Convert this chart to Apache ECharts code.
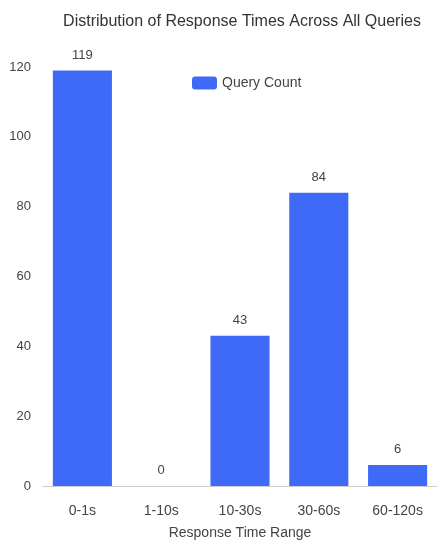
<!DOCTYPE html>
<html>
<head>
<meta charset="utf-8">
<script src="https://cdn.jsdelivr.net/npm/echarts@6/dist/echarts.min.js"></script>
<style>
  html, body { margin: 0; padding: 0; background: #fff; }
  #main { width: 437px; height: 541px; }
</style>
</head>
<body>
<div id="main"></div>
<script>
var categories = ['0-1s', '1-10s', '10-30s', '30-60s', '60-120s'];
var queryCounts = [119, 0, 43, 84, 6];
var seriesName = 'Query Count';

var font = 'Liberation Sans, Arial, sans-serif';
var chart = echarts.init(document.getElementById('main'));
chart.setOption({
    animation: false,
    title: {
        text: 'Distribution of Response Times Across All Queries',
        left: 237,
        top: 9,
        textAlign: 'center',
        textStyle: { fontFamily: font, fontSize: 16, fontWeight: 'normal', color: '#333' }
    },
    legend: {
        data: [seriesName],
        left: 187,
        top: 71,
        itemWidth: 25,
        itemHeight: 13,
        itemGap: 8,
        textStyle: { fontFamily: font, fontSize: 14, color: '#444' }
    },
    // fixed layout, no auto shrink for labels
    grid: { left: 43, right: 0, top: 67, bottom: 55, outerBoundsMode: 'none', containLabel: false },
    xAxis: {
        type: 'category',
        data: categories,
        name: 'Response Time Range',
        nameLocation: 'middle',
        nameGap: 40,
        nameTextStyle: { fontFamily: font, fontSize: 14, color: '#444' },
        axisLine: { lineStyle: { color: '#ccc' } },
        axisTick: { lineStyle: { color: '#ccc' } },
        axisLabel: { fontFamily: font, fontSize: 14, color: '#444', margin: 18 }
    },
    yAxis: {
        type: 'value',
        min: 0,
        max: 120,
        interval: 20,
        splitLine: { show: false },
        axisLine: { show: false },
        axisTick: { show: false },
        axisLabel: { fontFamily: font, fontSize: 13, color: '#444', margin: 12 }
    },
    series: [{
        name: seriesName,
        type: 'bar',
        data: queryCounts,
        barCategoryGap: '25%',
        itemStyle: { color: '#3F6AF7' },
        label: {
            show: true,
            position: 'top',
            distance: 9,
            fontFamily: font,
            fontSize: 13,
            color: '#444'
        }
    }]
});
</script>
</body>
</html>
